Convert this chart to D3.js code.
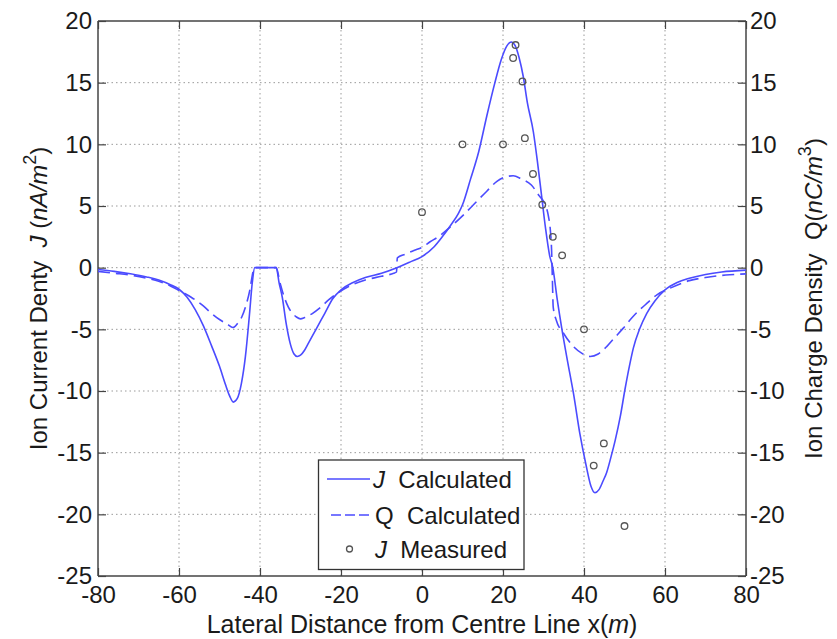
<!DOCTYPE html>
<html>
<head>
<meta charset="utf-8">
<script src="https://cdn.jsdelivr.net/npm/d3@7"></script>
<style>
  html, body { margin: 0; padding: 0; background: #fff; }
  svg { display: block; font-family: "Liberation Sans", Arial, sans-serif; }
  text { white-space: pre; fill: #1a1a1a; }
</style>
</head>
<body>
<svg id="chart" width="837" height="639"></svg>
<script>
// ---------- data ----------
const xTicks = [-80, -60, -40, -20, 0, 20, 40, 60, 80];
const yTicks = [-25, -20, -15, -10, -5, 0, 5, 10, 15, 20];

// J calculated (solid)
const jX = [-80, -76, -72, -68, -65, -62, -60, -58, -56, -54, -52, -50, -48.5, -47.5, -46.6, -45.6, -44.6, -43.6, -42.6, -41.9, -41.3,
  -36, -35.3, -34.5, -33.5, -32.5, -31.6, -30.8, -30, -29, -28, -26, -24, -22, -20, -17, -14, -10, -6.2, -3, 0, 3, 5, 7, 9, 10, 12, 14, 16,
  18, 19.5, 21, 22, 23, 24, 25, 26, 27.5, 28.5, 29.5, 30.5, 31.5, 32.3, 33.4, 34.5, 36, 37.4, 39, 40.5, 41.7, 42.7, 43.7, 44.7, 45.6,
  46.7, 47.7, 49, 50.1, 51.2, 52.2, 53.7, 55.5, 57.5, 60, 63, 66, 70, 74, 80];
const jY = [-0.15, -0.3, -0.5, -0.75, -1.0, -1.4, -1.75, -2.4, -3.4, -4.7, -6.3, -8.0, -9.5, -10.4, -10.9, -10.6, -9.4, -7.2, -3.8, -1.2, 0,
  0, -1.2, -2.4, -4.6, -6.2, -7.0, -7.2, -7.1, -6.7, -6.1, -4.9, -3.7, -2.5, -1.8, -1.2, -0.8, -0.45, 0, 0.45, 0.9, 1.7, 2.5, 3.4, 4.4, 5.1, 7.2, 9.4, 12.3,
  15.0, 16.8, 18.0, 18.3, 18.0, 17.0, 15.5, 13.4, 11.0, 8.6, 5.9, 3.2, 1.0, 0, -2.6, -4.9, -7.7, -10.2, -13.5, -16.0, -17.7, -18.25, -18.0, -17.3, -16.6,
  -15.3, -14.0, -12.0, -9.9, -8.0, -6.5, -5.0, -3.7, -2.7, -1.8, -1.2, -0.86, -0.55, -0.35, -0.2];

// Q calculated (dashed)
const qX = [-80, -76, -72, -68, -65, -62, -60, -57, -54, -52, -50, -48, -46.7, -45.5, -44.5, -43.5, -42.5, -41.7, -41.3,
  -36, -35, -34, -33, -32, -31, -30, -29, -27, -25, -23, -21, -18, -14, -10, -7, -6.3, -6.1, -4, -2, 0, 2, 4, 7, 10, 13, 16,
  18.5, 20.5, 22.5, 24.5, 27, 29, 30.3, 31.2, 31.7, 32, 32.2, 32.4, 33.2, 34.9, 37.4, 39.5, 41.5, 43.5, 45.6, 47.5, 49.7, 52,
  55.5, 58, 61.2, 66, 70, 75, 80];
const qY = [-0.3, -0.45, -0.6, -0.85, -1.1, -1.5, -1.85, -2.4, -3.1, -3.7, -4.2, -4.6, -4.85, -4.5, -4.0, -3.1, -1.8, -0.3, 0,
  0, -1.3, -2.4, -3.2, -3.7, -4.0, -4.15, -4.05, -3.7, -3.2, -2.6, -2.1, -1.5, -1.0, -0.7, -0.45, -0.35, 0.8, 1.1, 1.4, 1.65, 2.1, 2.5, 3.3, 4.2, 5.2, 6.2,
  7.0, 7.35, 7.45, 7.2, 6.7, 5.8, 5.2, 4.2, 3.0, 1.4, -1.0, -3.2, -4.3, -5.3, -6.4, -6.95, -7.2, -7.0, -6.4, -5.7, -4.9, -4.0,
  -2.9, -2.2, -1.67, -1.05, -0.8, -0.6, -0.5];

// J measured (circles)
const mX = [0, 10, 20, 22.5, 23.1, 24.8, 25.4, 27.4, 29.7, 32.3, 34.6, 40, 42.4, 44.9, 50];
const mY = [4.5, 10, 10, 17, 18.05, 15.1, 10.5, 7.6, 5.1, 2.5, 1.0, -5, -16.05, -14.25, -20.95];

// ---------- layout ----------
const L = 98, R = 746, T = 21, B = 576;
const blue = "#4b4bff";
const axisCol = "#444";

const svg = d3.select("#chart");
const x = d3.scaleLinear().domain([-80, 80]).range([L, R]);
const y = d3.scaleLinear().domain([-25, 20]).range([B, T]);
const fmt = d => String(d);

// grid
const grid = svg.append("g");
grid.selectAll(".vg").data(xTicks.slice(1, -1)).join("line")
  .attr("x1", d => x(d)).attr("x2", d => x(d)).attr("y1", T).attr("y2", B)
  .attr("stroke", "#9a9a9a").attr("stroke-width", 1).attr("stroke-dasharray", "1.5,3");
grid.selectAll(".hg").data(yTicks.slice(1, -1)).join("line")
  .attr("y1", d => y(d)).attr("y2", d => y(d)).attr("x1", L).attr("x2", R)
  .attr("stroke", "#9a9a9a").attr("stroke-width", 1).attr("stroke-dasharray", "1.5,3");

// axes (ticks inward on all sides)
const tickLen = 8;
const axB = d3.axisBottom(x).tickValues(xTicks).tickSize(-tickLen).tickPadding(10).tickFormat(fmt);
const axT = d3.axisTop(x).tickValues(xTicks).tickSize(-tickLen).tickFormat("");
const axL = d3.axisLeft(y).tickValues(yTicks).tickSize(-tickLen).tickPadding(6).tickFormat(fmt);
const axR = d3.axisRight(y).tickValues(yTicks).tickSize(-tickLen).tickPadding(4).tickFormat(fmt);

function style(g) {
  g.selectAll("path").attr("stroke", axisCol).attr("stroke-width", 1.5);
  g.selectAll("line").attr("stroke", axisCol).attr("stroke-width", 1.2);
  g.selectAll("text").attr("font-size", 24).attr("fill", "#1a1a1a")
    .attr("font-family", "Liberation Sans, Arial, sans-serif");
}
svg.append("g").attr("transform", `translate(0,${B})`).call(axB).call(style).call(g => g.select(".domain").attr("d", `M${L},0H${R}`));
svg.append("g").attr("transform", `translate(0,${T})`).call(axT).call(style).call(g => g.select(".domain").attr("d", `M${L},0H${R}`));
svg.append("g").attr("transform", `translate(${L},0)`).call(axL).call(style).call(g => g.select(".domain").attr("d", `M0,${T}V${B}`));
svg.append("g").attr("transform", `translate(${R},0)`).call(axR).call(style).call(g => g.select(".domain").attr("d", `M0,${T}V${B}`));

// lines
const lineGen = d3.line().x(d => x(d[0])).y(d => y(d[1])).curve(d3.curveMonotoneX);
const jData = jX.map((v, i) => [v, jY[i]]);
const qData = qX.map((v, i) => [v, qY[i]]);
const mData = mX.map((v, i) => [v, mY[i]]);

const plot = svg.append("g");
plot.append("path").datum(jData).attr("d", lineGen)
  .attr("fill", "none").attr("stroke", blue).attr("stroke-width", 1.6);
plot.append("path").datum(qData).attr("d", lineGen)
  .attr("fill", "none").attr("stroke", blue).attr("stroke-width", 1.6).attr("stroke-dasharray", "12,6");
plot.selectAll("circle").data(mData).join("circle")
  .attr("cx", d => x(d[0])).attr("cy", d => y(d[1])).attr("r", 3.3)
  .attr("fill", "none").attr("stroke", "#555").attr("stroke-width", 1.3);

// axis labels
const lab1 = svg.append("text").attr("transform", `translate(47,${(T + B) / 2}) rotate(-90)`)
  .attr("text-anchor", "middle").attr("font-size", 24);
lab1.append("tspan").text("Ion Current Denty  ");
lab1.append("tspan").attr("font-style", "italic").text("J");
lab1.append("tspan").text(" (");
lab1.append("tspan").attr("font-style", "italic").text("nA/m");
lab1.append("tspan").attr("dy", -11).attr("font-size", 18).text("2");
lab1.append("tspan").attr("dy", 11).text(")");

const lab2 = svg.append("text").attr("transform", `translate(822,${(T + B) / 2}) rotate(-90)`)
  .attr("text-anchor", "middle").attr("font-size", 24);
lab2.append("tspan").text("Ion Charge Density  Q(");
lab2.append("tspan").attr("font-style", "italic").text("nC/m");
lab2.append("tspan").attr("dy", -11).attr("font-size", 18).text("3");
lab2.append("tspan").attr("dy", 11).text(")");

const lab3 = svg.append("text").attr("x", (L + R) / 2).attr("y", 633)
  .attr("text-anchor", "middle").attr("font-size", 25);
lab3.append("tspan").text("Lateral Distance from Centre Line x(");
lab3.append("tspan").attr("font-style", "italic").text("m");
lab3.append("tspan").text(")");

// legend
const lg = svg.append("g");
lg.append("rect").attr("x", 318.5).attr("y", 460).attr("width", 205.5).attr("height", 109.5)
  .attr("fill", "#fff").attr("stroke", "#333").attr("stroke-width", 1.3);
const rows = [479, 515, 549];
lg.append("line").attr("x1", 327).attr("x2", 370).attr("y1", rows[0]).attr("y2", rows[0])
  .attr("stroke", blue).attr("stroke-width", 1.6);
lg.append("line").attr("x1", 331).attr("x2", 370).attr("y1", rows[1]).attr("y2", rows[1])
  .attr("stroke", blue).attr("stroke-width", 1.6).attr("stroke-dasharray", "10,4");
lg.append("circle").attr("cx", 349.5).attr("cy", rows[2]).attr("r", 3)
  .attr("fill", "none").attr("stroke", "#555").attr("stroke-width", 1.3);

const legendLabels = [["J", true, "  Calculated", 373], ["Q", false, "  Calculated", 375], ["J", true, "  Measured", 375]];
legendLabels.forEach((lbl, i) => {
  const t = lg.append("text").attr("x", lbl[3]).attr("y", rows[i] + 9).attr("font-size", 24);
  t.append("tspan").attr("font-style", lbl[1] ? "italic" : "normal").text(lbl[0]);
  t.append("tspan").text(lbl[2]);
});
</script>
</body>
</html>
